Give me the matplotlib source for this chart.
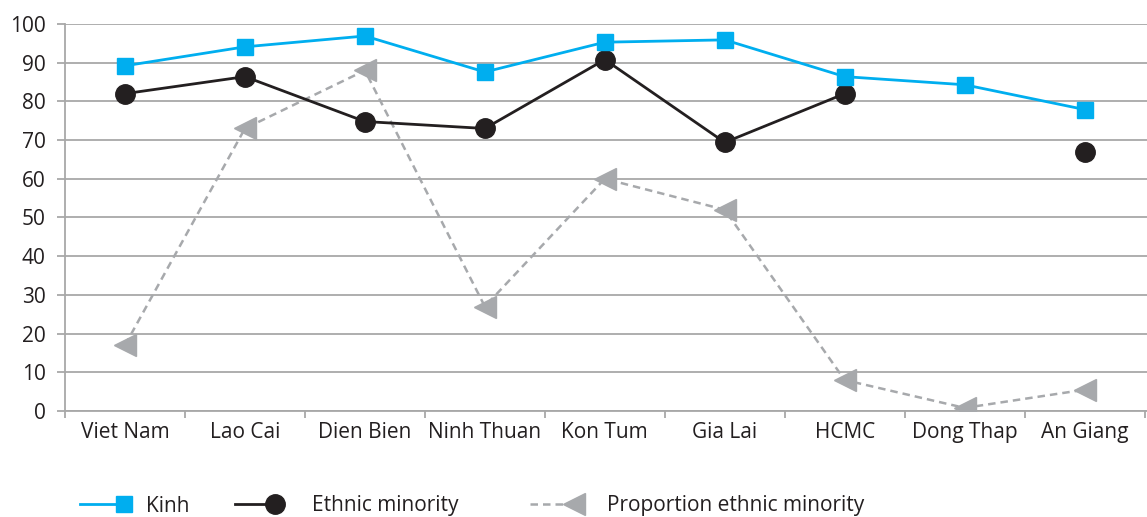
import matplotlib
matplotlib.use("Agg")
import matplotlib.pyplot as plt
import numpy as np
from matplotlib.lines import Line2D
from matplotlib.legend_handler import HandlerLine2DCompound

categories = ["Viet Nam", "Lao Cai", "Dien Bien", "Ninh Thuan", "Kon Tum",
              "Gia Lai", "HCMC", "Dong Thap", "An Giang"]
kinh = [89.2, 94.1, 96.9, 87.6, 95.3, 95.9, 86.4, 84.3, 77.9]
ethnic_minority = [82.0, 86.4, 74.8, 73.0, 90.8, 69.4, 82.0, np.nan, 66.8]
proportion = [17.0, 73.0, 88.0, 27.0, 60.0, 52.0, 8.0, 0.8, 5.5]
y_ticks = list(range(0, 101, 10))
series_labels = ["Kinh", "Ethnic minority", "Proportion ethnic minority"]

plt.rcParams['font.family'] = ['Open Sans', 'DejaVu Sans']

BLUE = '#00AEEF'
BLACK = '#231F20'
GREY = '#A7A9AC'
GRID = '#A8A8A8'
FS = 15

fig = plt.figure(figsize=(11.47, 5.17), dpi=100)
ax = fig.add_axes([65/1147, 1-411/517, 1-65/1147, (411-24)/517])

x = np.arange(len(categories))
ax.plot(x, proportion, color=GREY, lw=1.8, ls=(0, (3, 2)), marker='<',
        ms=16, mfc=GREY, mec=GREY, zorder=3)
ax.plot(x, ethnic_minority, color=BLACK, lw=2, marker='o', ms=14,
        mfc=BLACK, mec=BLACK, zorder=4)
ax.plot(x, kinh, color=BLUE, lw=2, marker='s', ms=12, mfc=BLUE, mec=BLUE,
        zorder=5)

ax.set_xlim(-0.5, 8.52)
ax.set_ylim(0, 100)
ax.set_yticks(y_ticks)
ax.set_yticklabels([str(v) for v in y_ticks], fontsize=FS, color='#231F20')
ax.set_xticks(x)
ax.set_xticklabels(categories, fontsize=FS, color='#231F20')
ax.set_xticks(np.arange(-0.5, 8.6, 1), minor=True)
ax.tick_params(axis='x', which='major', length=0, pad=8)
ax.tick_params(axis='x', which='minor', length=5, color=GRID, width=1.3)
ax.tick_params(axis='y', length=6, color=GRID, width=1.3, pad=8)
ax.grid(axis='y', color=GRID, lw=1.3)
ax.set_axisbelow(True)
for s in ['top', 'right']:
    ax.spines[s].set_visible(False)
for s in ['left', 'bottom']:
    ax.spines[s].set_color(GRID)
    ax.spines[s].set_linewidth(1.3)


class EndMarkerHandler(HandlerLine2DCompound):
    def get_xdata(self, legend, xdescent, ydescent, width, height, fontsize):
        xdata = [-xdescent, -xdescent + width]
        return xdata, [-xdescent + width]


handles = [
    Line2D([], [], color=BLUE, lw=2, marker='s', ms=12, mfc=BLUE, mec=BLUE),
    Line2D([], [], color=BLACK, lw=2, marker='o', ms=14, mfc=BLACK, mec=BLACK),
    Line2D([], [], color=GREY, lw=1.8, ls=(0, (3, 2)), marker='<', ms=16,
           mfc=GREY, mec=GREY),
]
starts = [80, 235, 530]
hlens = [2.1, 1.92, 2.1]
pads = [1.05, 1.78, 1.6]
for h, lab, sx, hl, pd in zip(handles, series_labels, starts, hlens, pads):
    fig.legend([h], [lab], loc='center left',
               bbox_to_anchor=(sx/1147, 11/517), frameon=False,
               fontsize=FS, handlelength=hl, handletextpad=pd,
               labelcolor='#231F20', borderpad=0, borderaxespad=0,
               handler_map={Line2D: EndMarkerHandler(numpoints=1)})

fig.savefig("out.png", dpi=100)
